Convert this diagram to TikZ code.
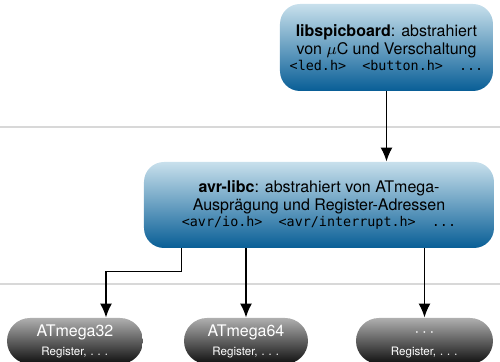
\documentclass[tikz,border=0pt]{standalone}
\usepackage{fontspec}
\setmainfont{TeX Gyre Heros}
\setmonofont{DejaVu Sans Mono}
\usepackage{tikz}
\usetikzlibrary{calc}
\usetikzlibrary{arrows.meta}
\tikzset{>={Latex[length=7pt,width=6pt]}}
\definecolor{libtop}{RGB}{200,224,236}
\definecolor{libbot}{RGB}{8,94,150}
\definecolor{chiptop}{RGB}{175,175,175}
\definecolor{chipbot}{RGB}{15,15,15}
\definecolor{layerline}{RGB}{216,216,216}
\tikzset{
	libbox/.style={rounded corners=10pt,top color=libtop,bottom color=libbot,align=center,inner sep=0pt,
		font=\fontsize{8}{9}\selectfont},
	chipbox/.style={rounded corners=11.5pt,top color=chiptop,bottom color=chipbot,text=white,align=center,
		inner sep=0pt,minimum height=23pt,font=\fontsize{8}{9.5}\selectfont}
}
\newcommand{\regtext}{{\fontsize{5.8}{7}\selectfont Register, $\ldots$}}

\begin{document}
\begin{tikzpicture}[x=0.5pt,y=-0.5pt]
	\useasboundingbox (0,0) rectangle (500,362);
	\draw[layerline,line width=1pt] (0,127) -- (500,127);
	\draw[layerline,line width=1pt] (0,284) -- (500,284);
	\node[libbox,minimum width=106.5pt,minimum height=43.5pt] (spic) at (386.5,47.5)
		{\textbf{libspicboard}: abstrahiert\\von $\mu$C und Verschaltung\\[-1pt]
		{\fontsize{6.7}{8}\ttfamily <led.h>~~<button.h>~~...}};
	\node[libbox,minimum width=175pt,minimum height=43pt] (avrlibc) at (319,205)
		{\textbf{avr-libc}: abstrahiert von ATmega-\\Ausprägung und Register-Adressen\\[-1pt]
		{\fontsize{6.7}{8}\ttfamily <avr/io.h>~~<avr/interrupt.h>~~...}};
	\node[chipbox,minimum width=68pt] (atmega32) at (75,341) {ATmega32\\\regtext};
	\node[chipbox,minimum width=62pt] (atmega64) at (246,341) {ATmega64\\\regtext};
	\node[chipbox,minimum width=68.5pt] (atmegax) at (424.5,341) {\vphantom{A}$\cdots$\\\regtext};
	% Verbindungen
	\draw[->,line width=0.85pt] (spic.south) -- (spic.south |- avrlibc.north);
	\draw[->,line width=0.85pt] ([xshift=19pt]avrlibc.south west) -- ++(0,23) -| ([xshift=15.5pt]atmega32.north);
	\draw[->,line width=0.85pt] (atmega64.north |- avrlibc.south) -- (atmega64.north);
	\draw[->,line width=0.85pt] (atmegax.north |- avrlibc.south) -- (atmegax.north);
\end{tikzpicture}
\end{document}
